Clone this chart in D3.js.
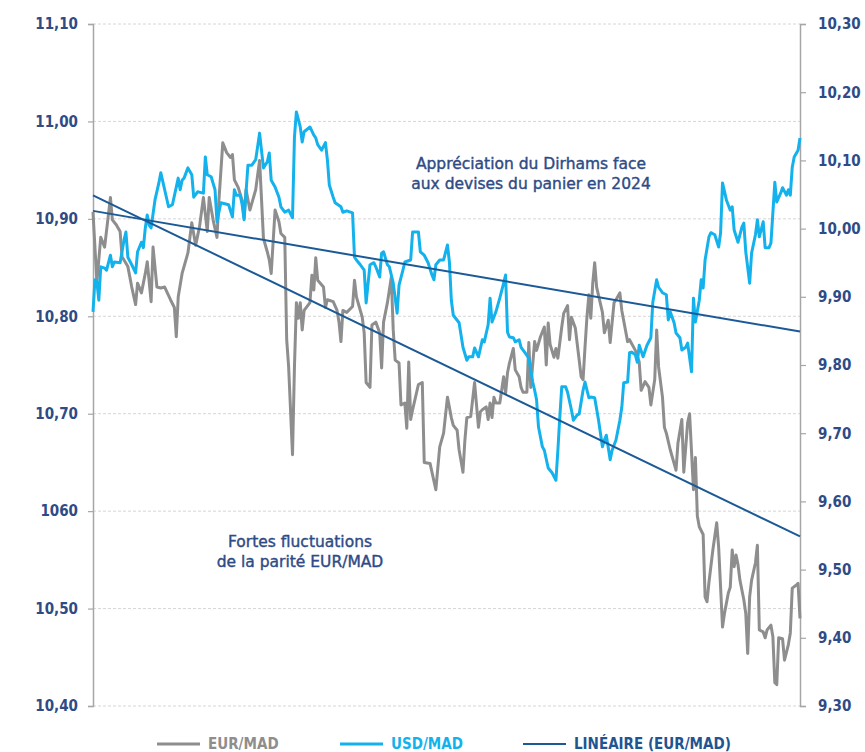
<!DOCTYPE html>
<html>
<head>
<meta charset="utf-8">
<script src="https://cdn.jsdelivr.net/npm/d3@7"></script>
<style>
  body { margin: 0; background: #fff; }
</style>
</head>
<body>
<div id="chart"></div>
<script>
// day of year 2024 (0..365), rate
const eurMad = [
  [0,10.907],[2,10.835],[4,10.881],[6,10.871],[9,10.922],[10,10.899],[12,10.894],[14,10.887],
  [15,10.861],[18,10.851],[20,10.830],[22,10.812],[23,10.834],[25,10.824],[27,10.844],[28,10.856],
  [30,10.815],[31,10.871],[33,10.830],[35,10.829],[37,10.830],[40,10.817],[42,10.809],[43,10.779],
  [44,10.820],[46,10.844],[49,10.865],[51,10.896],[53,10.873],[55,10.892],[57,10.922],[59,10.887],
  [60,10.922],[62,10.899],[64,10.881],[65,10.919],[67,10.978],[69,10.968],[71,10.963],[72,10.966],
  [73,10.940],[75,10.932],[77,10.919],[78,10.901],[79,10.930],[81,10.909],[84,10.930],[86,10.960],
  [88,10.880],[90,10.866],[91,10.858],[92,10.844],[94,10.909],[96,10.897],[97,10.885],[99,10.881],
  [100,10.776],[101,10.748],[103,10.658],[104,10.748],[105,10.814],[106,10.798],[107,10.814],[108,10.786],
  [109,10.806],[112,10.814],[113,10.842],[114,10.827],[115,10.860],[116,10.837],[119,10.830],[120,10.809],
  [121,10.817],[124,10.815],[126,10.806],[127,10.794],[128,10.774],[129,10.806],[131,10.804],[134,10.810],
  [135,10.837],[136,10.820],[139,10.799],[140,10.783],[141,10.732],[143,10.727],[144,10.791],[146,10.794],
  [148,10.783],[149,10.747],[150,10.794],[152,10.814],[154,10.840],[155,10.786],[156,10.755],[158,10.752],
  [159,10.709],[161,10.711],[162,10.685],[163,10.753],[164,10.694],[165,10.704],[168,10.730],[170,10.732],
  [171,10.650],[174,10.649],[177,10.622],[179,10.666],[181,10.680],[183,10.717],[185,10.696],[186,10.688],
  [188,10.683],[189,10.663],[191,10.640],[192,10.673],[193,10.696],[195,10.697],[197,10.732],[199,10.686],
  [200,10.702],[201,10.704],[203,10.707],[204,10.694],[205,10.711],[206,10.696],[207,10.717],[208,10.711],
  [210,10.711],[212,10.738],[213,10.721],[214,10.742],[215,10.752],[217,10.767],[218,10.745],[220,10.738],
  [221,10.727],[222,10.722],[224,10.722],[225,10.773],[226,10.727],[228,10.774],[229,10.765],[231,10.779],
  [233,10.789],[234,10.750],[235,10.793],[236,10.771],[238,10.758],[239,10.767],[240,10.757],[242,10.789],
  [243,10.803],[245,10.811],[246,10.776],[247,10.799],[249,10.788],[251,10.755],[252,10.738],[253,10.735],
  [254,10.768],[255,10.799],[256,10.822],[257,10.798],[258,10.834],[259,10.855],[260,10.830],[263,10.804],
  [264,10.783],[266,10.796],[267,10.773],[269,10.814],[270,10.817],[272,10.824],[273,10.806],[276,10.774],
  [277,10.776],[280,10.765],[282,10.753],[283,10.724],[285,10.733],[287,10.727],[288,10.709],[290,10.735],
  [291,10.786],[292,10.748],[294,10.717],[295,10.686],[296,10.680],[298,10.663],[300,10.649],[301,10.642],
  [302,10.670],[304,10.694],[305,10.640],[307,10.691],[308,10.700],[310,10.622],[311,10.655],[312,10.595],
  [313,10.584],[315,10.576],[316,10.512],[317,10.507],[318,10.527],[320,10.560],[322,10.588],[323,10.563],
  [324,10.522],[325,10.481],[326,10.495],[328,10.516],[329,10.522],[330,10.560],[331,10.543],[332,10.555],
  [333,10.545],[334,10.529],[336,10.509],[337,10.495],[338,10.454],[339,10.512],[340,10.529],[342,10.547],
  [343,10.565],[344,10.478],[346,10.476],[347,10.470],[348,10.478],[350,10.483],[351,10.471],[352,10.424],
  [353,10.422],[354,10.470],[356,10.469],[357,10.447],[359,10.463],[360,10.475],[361,10.521],[363,10.524],
  [364,10.526],[365,10.490]
];

const usdMad = [
  [0,9.878],[1,9.925],[2,9.922],[3,9.895],[4,9.944],[6,9.942],[7,9.939],[9,9.961],
  [10,9.944],[11,9.951],[14,9.950],[16,9.983],[17,9.995],[18,9.958],[20,9.947],[22,9.935],
  [23,9.966],[24,9.973],[25,9.980],[26,9.972],[27,10.001],[28,10.020],[29,10.005],[30,10.001],
  [32,10.042],[34,10.067],[35,10.082],[37,10.057],[39,10.032],[41,10.035],[44,10.074],[45,10.057],
  [46,10.071],[47,10.074],[49,10.089],[51,10.079],[52,10.046],[54,10.054],[57,10.052],[58,10.105],
  [59,10.079],[61,10.076],[63,10.057],[64,10.010],[66,10.038],[70,10.035],[72,10.017],[73,10.057],
  [74,10.049],[76,10.049],[77,10.035],[78,10.013],[80,10.093],[82,10.093],[84,10.101],[86,10.140],
  [88,10.089],[90,10.098],[91,10.111],[92,10.071],[94,10.061],[96,10.046],[97,10.032],[99,10.024],
  [101,10.027],[103,10.016],[104,10.134],[105,10.171],[107,10.149],[108,10.127],[109,10.142],[112,10.149],
  [114,10.137],[115,10.133],[116,10.123],[118,10.115],[120,10.126],[121,10.101],[122,10.064],[124,10.046],
  [125,10.038],[128,10.032],[129,10.024],[131,10.026],[134,10.023],[135,9.958],[136,9.954],[138,9.947],
  [140,9.939],[141,9.891],[143,9.947],[145,9.950],[146,9.944],[148,9.929],[149,9.964],[150,9.966],
  [152,9.947],[153,9.944],[155,9.920],[157,9.876],[158,9.917],[160,9.939],[161,9.951],[164,9.954],
  [165,9.995],[168,9.995],[169,9.966],[171,9.961],[173,9.950],[175,9.932],[176,9.925],[177,9.947],
  [179,9.954],[181,9.954],[183,9.976],[184,9.951],[185,9.895],[186,9.873],[189,9.862],[191,9.826],
  [193,9.807],[194,9.812],[196,9.812],[197,9.825],[199,9.812],[201,9.837],[202,9.834],[204,9.859],
  [205,9.898],[206,9.863],[208,9.878],[210,9.898],[212,9.920],[213,9.932],[214,9.848],[215,9.841],
  [217,9.840],[218,9.834],[220,9.837],[221,9.826],[223,9.818],[225,9.810],[226,9.793],[227,9.775],
  [228,9.763],[229,9.749],[230,9.709],[232,9.680],[233,9.675],[235,9.649],[237,9.642],[239,9.631],
  [240,9.675],[241,9.724],[242,9.768],[244,9.768],[245,9.760],[247,9.734],[248,9.719],[250,9.727],
  [251,9.728],[253,9.763],[254,9.775],[256,9.752],[257,9.753],[259,9.752],[261,9.719],[263,9.680],
  [264,9.690],[265,9.697],[267,9.661],[268,9.675],[270,9.690],[272,9.719],[273,9.738],[274,9.774],
  [276,9.775],[277,9.818],[278,9.819],[280,9.815],[281,9.804],[282,9.829],[284,9.812],[286,9.829],
  [288,9.840],[289,9.892],[291,9.925],[292,9.914],[294,9.906],[296,9.903],[297,9.866],[298,9.878],
  [300,9.862],[301,9.847],[303,9.840],[304,9.822],[306,9.826],[307,9.832],[309,9.790],[310,9.898],
  [311,9.863],[313,9.895],[314,9.925],[315,9.913],[316,9.954],[318,9.988],[319,9.994],[321,9.991],
  [323,9.973],[324,9.994],[325,10.067],[327,10.042],[329,10.027],[330,10.032],[331,9.998],[333,9.980],
  [335,10.002],[336,10.008],[337,9.966],[339,9.920],[340,9.964],[342,9.991],[343,10.013],[344,9.988],
  [346,10.010],[347,9.972],[349,9.972],[350,9.979],[352,10.068],[353,10.039],[355,10.052],[356,10.060],
  [358,10.049],[359,10.057],[360,10.049],[361,10.090],[362,10.105],[364,10.115],[365,10.133]
];

// linear trends (start / end of year)
const eurTrend = [[0,10.924],[365,10.574]];
const usdTrend = [[0,10.026],[365,9.849]];

const leftTicks = [11.10, 11.00, 10.90, 10.80, 10.70, 10.60, 10.50, 10.40];
const leftLabels = ["11,10", "11,00", "10,90", "10,80", "10,70", "1060", "10,50", "10,40"];
const rightTicks = [10.30, 10.20, 10.10, 10.00, 9.90, 9.80, 9.70, 9.60, 9.50, 9.40, 9.30];
const rightLabels = ["10,30", "10,20", "10,10", "10,00", "9,90", "9,80", "9,70", "9,60", "9,50", "9,40", "9,30"];

const legendNames = ["EUR/MAD", "USD/MAD", "LINÉAIRE (EUR/MAD)"];
const notes = [
  ["Appréciation du Dirhams face", "aux devises du panier en 2024"],
  ["Fortes fluctuations", "de la parité EUR/MAD"]
];

const width = 865, height = 752;
const plot = { left: 93, right: 800, top: 24, bottom: 706 };
const navy = "#2e4b86";
const grey = "#8e8e8e", cyan = "#14b2ec", dark = "#1b5a96";
const condensed = "'DejaVu Sans Condensed', 'Liberation Sans Narrow', sans-serif";

const svg = d3.select("#chart").append("svg")
    .attr("width", width)
    .attr("height", height);

const x = d3.scaleLinear().domain([0, 365]).range([plot.left, plot.right]);
const yL = d3.scaleLinear().domain([10.40, 11.10]).range([plot.bottom, plot.top]);
const yR = d3.scaleLinear().domain([9.30, 10.30]).range([plot.bottom, plot.top]);

// dashed gridlines on left ticks
svg.append("g")
    .selectAll("line")
    .data(leftTicks)
    .join("line")
    .attr("x1", plot.left).attr("x2", plot.right)
    .attr("y1", d => yL(d)).attr("y2", d => yL(d))
    .attr("stroke", "#d6d6d6")
    .attr("stroke-dasharray", "3,2");

let leftAxis = svg.append("g")
    .attr("transform", `translate(${plot.left},0)`)
    .call(d3.axisLeft(yL).tickValues(leftTicks).tickSize(5).tickPadding(10)
        .tickFormat((d, i) => leftLabels[i]));

let rightAxis = svg.append("g")
    .attr("transform", `translate(${plot.right},0)`)
    .call(d3.axisRight(yR).tickValues(rightTicks).tickSize(6).tickPadding(12)
        .tickFormat((d, i) => rightLabels[i]));

[leftAxis, rightAxis].forEach(function (ax) {
    ax.select(".domain").attr("stroke", "#a6a6a6").attr("stroke-width", 1.5);
    ax.selectAll(".tick line").attr("stroke", "#a6a6a6").attr("stroke-width", 1.2);
    ax.selectAll(".tick text")
        .attr("fill", navy)
        .style("font-family", condensed)
        .style("font-weight", "bold")
        .style("font-size", "15px");
});

// series
let lineL = d3.line().x(d => x(d[0])).y(d => yL(d[1]));
let lineR = d3.line().x(d => x(d[0])).y(d => yR(d[1]));

svg.append("path").datum(eurMad)
    .attr("d", lineL)
    .attr("fill", "none").attr("stroke", grey).attr("stroke-width", 3)
    .attr("stroke-linejoin", "round");

svg.append("path").datum(usdMad)
    .attr("d", lineR)
    .attr("fill", "none").attr("stroke", cyan).attr("stroke-width", 3)
    .attr("stroke-linejoin", "round");

svg.append("path").datum(eurTrend)
    .attr("d", lineL)
    .attr("fill", "none").attr("stroke", dark).attr("stroke-width", 2);

svg.append("path").datum(usdTrend)
    .attr("d", lineR)
    .attr("fill", "none").attr("stroke", dark).attr("stroke-width", 2);

// annotations
const notePos = [[531, 169], [300, 547]];
notes.forEach(function (lines, i) {
    lines.forEach(function (t, j) {
        svg.append("text")
            .attr("x", notePos[i][0])
            .attr("y", notePos[i][1] + j * 20)
            .attr("text-anchor", "middle")
            .attr("fill", navy)
            .attr("stroke", navy).attr("stroke-width", 0.4)
            .style("font-family", "'DejaVu Sans', sans-serif")
            .style("font-size", "15.5px")
            .text(t);
    });
});

// legend
const legendColors = [grey, cyan, dark];
const legendTextColors = ["#8e8e8e", "#14b2ec", "#1f5591"];
const legendX = [157, 340, 523];
let legend = svg.append("g");
legendNames.forEach(function (name, i) {
    legend.append("line")
        .attr("x1", legendX[i]).attr("x2", legendX[i] + 43)
        .attr("y1", 744).attr("y2", 744)
        .attr("stroke", legendColors[i])
        .attr("stroke-width", i == 2 ? 2 : 3);
    legend.append("text")
        .attr("x", legendX[i] + 51)
        .attr("y", 749)
        .attr("fill", legendTextColors[i])
        .style("font-family", condensed)
        .style("font-weight", "bold")
        .style("font-size", "15px")
        .text(name);
});
</script>
</body>
</html>
